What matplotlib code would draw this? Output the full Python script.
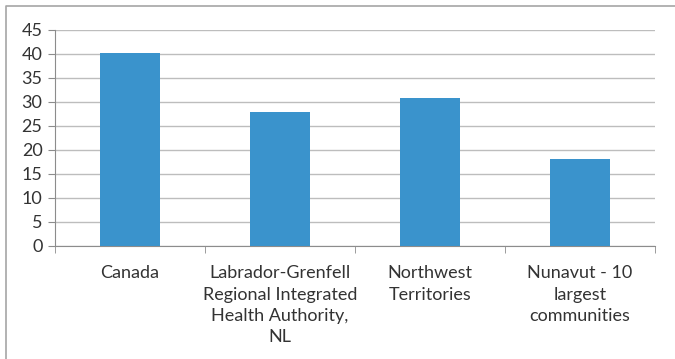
import matplotlib
matplotlib.use("Agg")
import matplotlib.pyplot as plt
from matplotlib.lines import Line2D
import numpy as np

plt.rcParams['font.family'] = ['Lato', 'DejaVu Sans']

categories = [
    "Canada",
    "Labrador-Grenfell\nRegional Integrated\nHealth Authority,\nNL",
    "Northwest\nTerritories",
    "Nunavut - 10\nlargest\ncommunities",
]
values = [40.2, 27.9, 30.8, 18.1]
yticks = list(range(0, 50, 5))

fig = plt.figure(figsize=(6.75, 3.59), dpi=100)
# chart frame: only the top and left edges are inside the crop
fig.lines.append(Line2D([6 / 675, 6 / 675, 1], [0, 1 - 6 / 359, 1 - 6 / 359],
                        transform=fig.transFigure, color="#a6a6a6", linewidth=1.2))
ax = fig.add_axes([55 / 675, 1 - 246 / 359, 600 / 675, 216 / 359])

x = np.arange(len(categories))
ax.bar(x, values, width=0.4, color="#3a93cc", zorder=3)

ax.set_xlim(-0.5, len(categories) - 0.5)
ax.set_ylim(0, 45)
ax.set_yticks(yticks)
ax.yaxis.grid(True, color="#bdbdbd", linewidth=1, zorder=0)

ax.set_xticks(x)
ax.set_xticklabels(categories, fontsize=13, color="#333333", linespacing=1.4)
ax.tick_params(axis="x", length=0, pad=14)
ax.set_xticks(np.arange(-0.5, len(categories)), minor=True)
ax.tick_params(axis="x", which="minor", length=5, color="#8c8c8c")
ax.tick_params(axis="y", labelsize=13, length=5, color="#8c8c8c",
               labelcolor="#333333", pad=4)

for s in ["top", "right"]:
    ax.spines[s].set_visible(False)
for s in ["left", "bottom"]:
    ax.spines[s].set_color("#8c8c8c")

fig.savefig("out.png", dpi=100)
